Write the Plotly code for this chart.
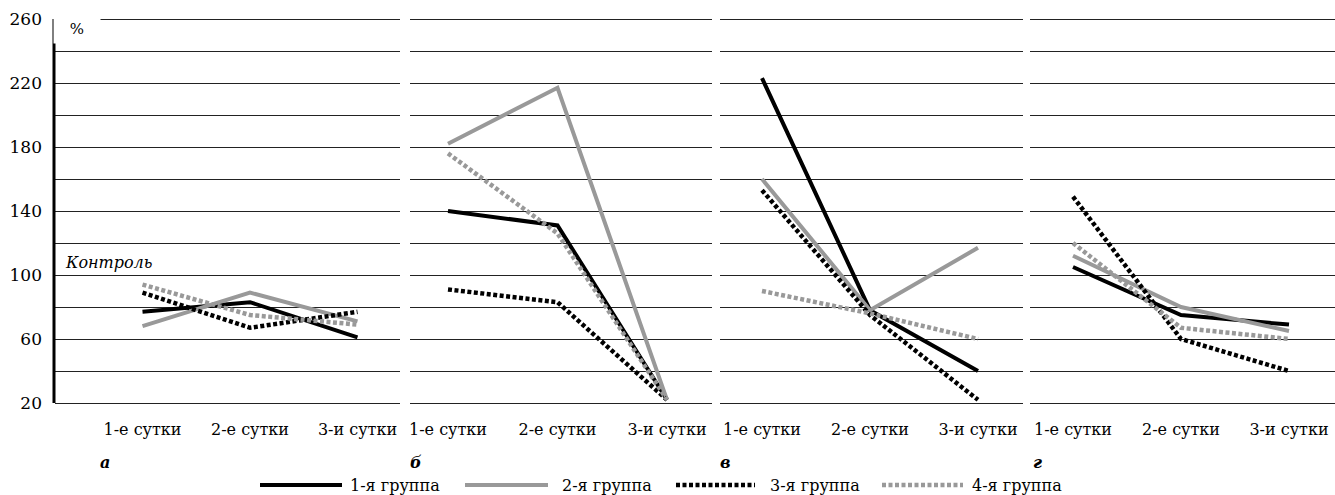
import plotly.graph_objects as go

W, H = 1335, 495

# ---- data ----
days = ["1-е сутки", "2-е сутки", "3-и сутки"]
panel_letters = ["а", "б", "в", "г"]
group_names = ["1-я группа", "2-я группа", "3-я группа", "4-я группа"]

group1 = [[77, 83, 61], [140, 131, 22], [223, 78, 40], [105, 75, 69]]
group2 = [[68, 89, 71], [182, 217, 22], [160, 78, 117], [112, 80, 65]]
group3 = [[89, 67, 77], [91, 83, 22], [153, 75, 22], [149, 60, 40]]
group4 = [[94, 75, 69], [176, 126, 22], [90, 76, 60], [120, 67, 60]]

y_tick_vals = [20, 40, 60, 80, 100, 120, 140, 160, 180, 200, 220, 240, 260]
y_tick_text = ["20", "", "60", "", "100", "", "140", "", "180", "", "220", "", "260"]

# ---- styles ----
GRAY = "#999999"
styles = [
    dict(color="black", width=4, dash="solid"),
    dict(color=GRAY, width=4, dash="solid"),
    dict(color="black", width=4.5, dash="4px,2.5px"),
    dict(color=GRAY, width=4.5, dash="4px,2.5px"),
]
SERIF = "DejaVu Serif"


def fx(px):
    return px / W


def fy(py):
    return 1 - py / H


# panel pixel layout: (left, right, x of first category, spacing)
panels_px = [
    (55, 400, 142.5, 107.5),
    (410, 712, 448, 109.5),
    (720, 1023, 762, 108),
    (1030, 1335, 1073, 108),
]
y_top_px, y_bot_px = 19, 403  # pixels for 260 and 20
ppu = (y_bot_px - y_top_px) / 240.0
y_lo, y_hi = 18, 262
dom_top = y_top_px - (y_hi - 260) * ppu
dom_bot = y_bot_px + (20 - y_lo) * ppu

fig = go.Figure()
all_groups = [group1, group2, group3, group4]
layout = dict()
for i, (l, r, x0, sp) in enumerate(panels_px):
    n = i + 1
    xa = "xaxis" if n == 1 else f"xaxis{n}"
    ya = "yaxis" if n == 1 else f"yaxis{n}"
    xr = "x" if n == 1 else f"x{n}"
    yr = "y" if n == 1 else f"y{n}"
    for g, (vals, st) in enumerate(zip(all_groups, styles)):
        fig.add_trace(go.Scatter(
            x=[0, 1, 2], y=vals[i], mode="lines",
            line=dict(color=st["color"], width=st["width"], dash=st["dash"]),
            name=group_names[g], showlegend=False, xaxis=xr, yaxis=yr,
            hoverinfo="skip"))
    layout[xa] = dict(
        domain=[fx(l), fx(r)], anchor=yr,
        range=[-(x0 - l) / sp, 2 + (r - (x0 + 2 * sp)) / sp],
        tickvals=[0, 1, 2], ticktext=days, ticks="",
        showgrid=False, zeroline=False, showline=False,
        tickfont=dict(family=SERIF, size=16, color="black"),
        ticklabelstandoff=12, fixedrange=True, automargin=False,
    )
    layout[ya] = dict(
        domain=[fy(dom_bot), fy(dom_top)], anchor=xr,
        range=[y_lo, y_hi], tickvals=y_tick_vals,
        ticktext=y_tick_text if n == 1 else [""] * len(y_tick_vals),
        showticklabels=(n == 1),
        showgrid=True, gridcolor="#222222", gridwidth=1.2,
        zeroline=False, showline=False, ticks="",
        tickfont=dict(family=SERIF, size=17, color="black"),
        ticklabelstandoff=12, fixedrange=True, automargin=False,
    )

shapes = [
    # thick y axis line
    dict(type="line", xref="paper", yref="y", x0=fx(54), x1=fx(54), y0=20, y1=260,
         line=dict(color="black", width=3)),
]
annotations = [
    dict(text="%", xref="paper", yref="paper", x=fx(77), y=fy(29),
         xanchor="center", yanchor="middle", showarrow=False, bgcolor="white",
         width=44, height=26, font=dict(family=SERIF, size=15, color="black")),
    dict(text="<i>Контроль</i>", xref="paper", yref="y", x=fx(63), y=100,
         xanchor="left", yanchor="bottom", showarrow=False, yshift=1,
         font=dict(family=SERIF, size=16, color="black")),
]
letter_x = [98, 408, 718, 1031]
for lx, letter in zip(letter_x, panel_letters):
    annotations.append(dict(text=f"<b><i>{letter}</i></b>", xref="paper", yref="paper",
                            x=fx(lx), y=fy(462), xanchor="left", yanchor="middle",
                            showarrow=False, font=dict(family=SERIF, size=16, color="black")))

# legend keys
leg_y = fy(485)
leg_keys = [(260, 342, 348), (465, 548, 560), (676, 755, 768), (882, 963, 970)]
for (a, b, t), st, name in zip(leg_keys, styles, group_names):
    shapes.append(dict(type="line", xref="paper", yref="paper", x0=fx(a), x1=fx(b),
                       y0=leg_y, y1=leg_y,
                       line=dict(color=st["color"], width=st["width"], dash=st["dash"])))
    annotations.append(dict(text=name, xref="paper", yref="paper", x=fx(t), y=leg_y,
                            xanchor="left", yanchor="middle", showarrow=False,
                            font=dict(family=SERIF, size=16, color="black")))

fig.update_layout(
    width=W, height=H, margin=dict(l=0, r=0, t=0, b=0, autoexpand=False),
    paper_bgcolor="white", plot_bgcolor="white", showlegend=False,
    font=dict(family=SERIF, color="black"),
    shapes=shapes, annotations=annotations, **layout,
)
fig.write_html(
    "out.html",
    config={"displayModeBar": False},
    post_script="document.body.style.margin='0';document.body.style.overflow='hidden';",
)
